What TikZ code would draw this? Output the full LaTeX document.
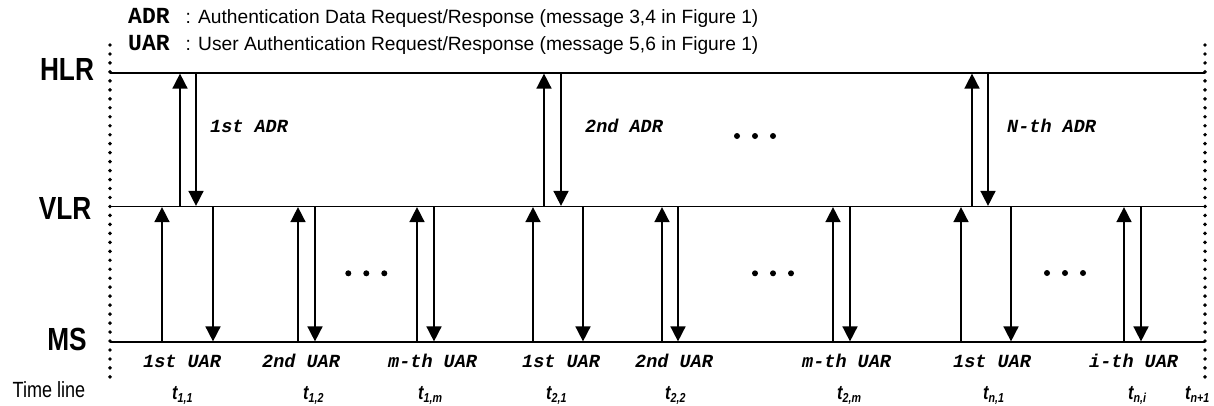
\documentclass[tikz,border=0pt]{standalone}
\usepackage{fontspec}
\setmainfont{Liberation Sans}
\newfontfamily\narrowsf[FakeStretch=0.82]{Liberation Sans}
\newfontfamily\codefont{Liberation Mono}
\usetikzlibrary{arrows.meta}

\newcommand\tsub[2]{{\narrowsf\bfseries\itshape\fontsize{20}{20}\selectfont #1\raisebox{-3.5pt}{\fontsize{13}{13}\selectfont #2}}}

\begin{document}
\begin{tikzpicture}[x=1pt,y=-1pt,
  topline/.style={line width=2pt},
  lifeline/.style={line width=1.3pt},
  bound/.style={line width=3.9pt, line cap=round, dash pattern=on 0pt off 8.97pt},
  msg/.style={line width=1.6pt, shorten >=0.6pt, -{Triangle[width=15pt,length=15pt]}},
  entity/.style={font={\narrowsf\bfseries\fontsize{32}{32}\selectfont}, anchor=base, inner sep=0pt},
  axislabel/.style={font={\narrowsf\fontsize{22}{22}\selectfont}, anchor=base, inner sep=0pt},
  keyword/.style={font={\codefont\bfseries\fontsize{23}{23}\selectfont}, anchor=base west, inner sep=0pt},
  desc/.style={font={\fontsize{19.2}{19.2}\selectfont}, anchor=base west, inner sep=0pt},
  msglabel/.style={font={\codefont\bfseries\itshape\fontsize{18.5}{18.5}\selectfont}, anchor=base west, inner sep=0pt},
  tick/.style={anchor=base west, inner sep=0pt},
  ellipsis/.style={fill=black}
]
\useasboundingbox (0,0) rectangle (1214,405);

% legend
\node[keyword] (adrkey) at (128,23) {ADR};
\node[desc] (adrdesc) at (185.5,23) {: Authentication Data Request/Response (message 3,4 in Figure 1)};
\node[keyword] (uarkey) at (128,50) {UAR};
\node[desc] (uardesc) at (185.5,50) {: User Authentication Request/Response (message 5,6 in Figure 1)};

% entity names
\node[entity] (hlr) at (67,80) {HLR};
\node[entity] (vlr) at (65,219) {VLR};
\node[entity] (ms)  at (67,350) {MS};
\node[axislabel] (tl) at (49,397) {Time line};

% boundaries of the observed period
\coordinate (lt) at (110,45);  \coordinate (lb) at (110,377);
\coordinate (rt) at (1205,45); \coordinate (rb) at (1205,377);
\draw[bound] (lt) -- (lb);
\draw[bound] (rt) -- (rb);

% entity lines
\coordinate (hl) at (110,73);    \coordinate (hr) at (1205,73);
\coordinate (vl) at (110,206.5); \coordinate (vr) at (1205,206.5);
\coordinate (ml) at (110,342);   \coordinate (mr) at (1205,342);
\draw[topline] (hl) -- (hr);
\draw[lifeline] (vl) -- (vr);
\draw[lifeline] (ml) -- (mr);

% authentication data request/response between VLR and HLR
\foreach \u/\d [count=\i] in {180/196, 544/561, 972/988} {
  \coordinate (adrReqFrom\i) at (\u,206.5);
  \coordinate (adrReqTo\i)   at (\u,73);
  \coordinate (adrResFrom\i) at (\d,73);
  \coordinate (adrResTo\i)   at (\d,206.5);
  \draw[msg] (adrReqFrom\i) -- (adrReqTo\i);
  \draw[msg] (adrResFrom\i) -- (adrResTo\i);
}
\node[msglabel] (adr1) at (210,132) {1st ADR};
\node[msglabel] (adr2) at (585,132) {2nd ADR};
\node[msglabel] (adrN) at (1007,132) {N-th ADR};

% user authentication request/response between MS and VLR
\foreach \u/\d [count=\i] in {162/213, 298/315, 417/434, 533/583, 662/678, 833/850, 961/1011, 1124/1141} {
  \coordinate (uarReqFrom\i) at (\u,342);
  \coordinate (uarReqTo\i)   at (\u,206.5);
  \coordinate (uarResFrom\i) at (\d,206.5);
  \coordinate (uarResTo\i)   at (\d,342);
  \draw[msg] (uarReqFrom\i) -- (uarReqTo\i);
  \draw[msg] (uarResFrom\i) -- (uarResTo\i);
}
\node[msglabel] (uar11) at (143,367) {1st UAR};
\node[msglabel] (uar12) at (262,367) {2nd UAR};
\node[msglabel] (uar1m) at (388,367) {m-th UAR};
\node[msglabel] (uar21) at (522,367) {1st UAR};
\node[msglabel] (uar22) at (635,367) {2nd UAR};
\node[msglabel] (uar2m) at (802,367) {m-th UAR};
\node[msglabel] (uarn1) at (953,367) {1st UAR};
\node[msglabel] (uarni) at (1089,367) {i-th UAR};

% time instants
\node[tick] (t11) at (172,399) {\tsub{t}{1,1}};
\node[tick] (t12) at (303,399) {\tsub{t}{1,2}};
\node[tick] (t1m) at (418,399) {\tsub{t}{1,m}};
\node[tick] (t21) at (546,399) {\tsub{t}{2,1}};
\node[tick] (t22) at (665,399) {\tsub{t}{2,2}};
\node[tick] (t2m) at (837,399) {\tsub{t}{2,m}};
\node[tick] (tn1) at (983,399) {\tsub{t}{n,1}};
\node[tick] (tni) at (1128,399) {\tsub{t}{n,i}};
\node[tick] (tn1p) at (1185,399) {\tsub{t}{n+1}};

% ellipses
\foreach \x/\y in {737/136, 348.3/273.3, 755/273.3, 1047/273} {
  \fill[ellipsis] (\x,\y) circle (3pt) ++(18,0) circle (3pt) ++(18,0) circle (3pt);
}
\end{tikzpicture}
\end{document}
